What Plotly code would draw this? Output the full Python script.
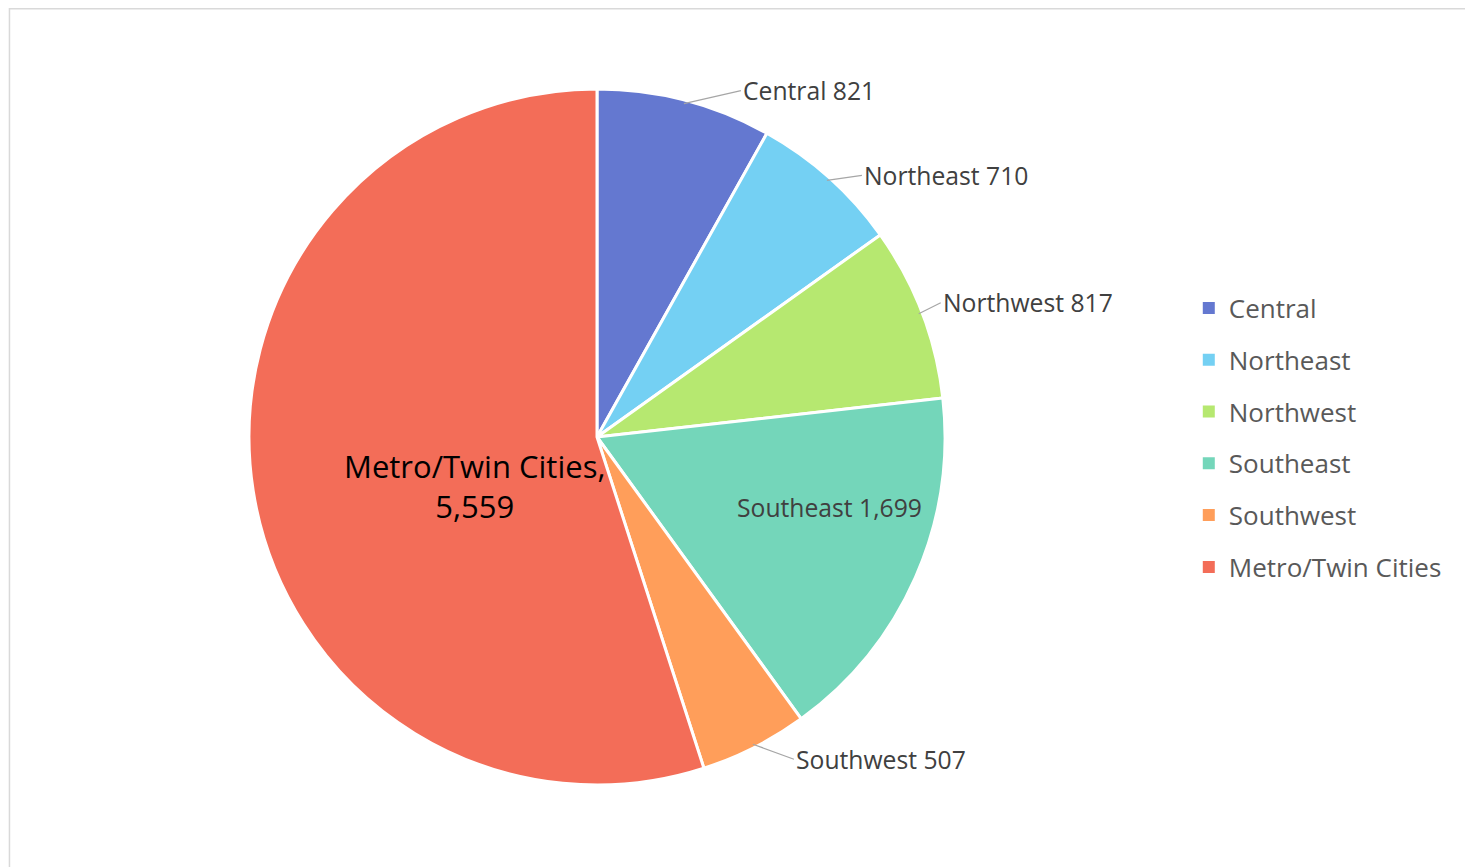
import math
import plotly.graph_objects as go

# ---- data ----
regions = ["Central", "Northeast", "Northwest", "Southeast", "Southwest", "Metro/Twin Cities"]
counts = [821, 710, 817, 1699, 507, 5559]

# ---- styling ----
colors = ["#6478D0", "#74D0F3", "#B6E870", "#74D6BA", "#FF9E5A", "#F36D58"]
FONT = "Open Sans, Noto Sans, sans-serif"
W, H = 1465, 859            # page body has an 8px margin
CX_PX, CY_PX, R_PX = 589, 429, 348

# label style per slice: (kind, radial fraction, dx px, dy px)
label_style = [
    ("out", 0.99, 57, -13),
    ("out", 0.99, 35, -5),
    ("out", 0.99, 22, -11),
    ("in", 0.70, 10, -28),
    ("out", 0.99, 41, 15),
    ("in", 0.38, 8, 28),
]

dom_x = [(CX_PX - R_PX) / W, (CX_PX + R_PX) / W]
dom_y = [1 - (CY_PX + R_PX) / H, 1 - (CY_PX - R_PX) / H]

fig = go.Figure()
fig.add_trace(go.Pie(
    labels=regions,
    values=counts,
    sort=False,
    direction="clockwise",
    rotation=0,
    marker=dict(colors=colors, line=dict(color="white", width=3)),
    textinfo="none",
    showlegend=False,
    domain=dict(x=dom_x, y=dom_y),
    hoverinfo="label+value+percent",
))

# data labels placed from each slice's mid angle
total = sum(counts)
cum = 0
annotations = []
for name, v, (kind, f, dx, dy) in zip(regions, counts, label_style):
    a = (cum + v / 2) / total * 2 * math.pi
    cum += v
    px = CX_PX + f * R_PX * math.sin(a)
    py = CY_PX - f * R_PX * math.cos(a)
    xp, yp = px / W, 1 - py / H
    if kind == "out":
        annotations.append(dict(
            x=xp, y=yp, xref="paper", yref="paper",
            text=f"{name} {v:,}", showarrow=True, arrowhead=0, arrowwidth=1.2,
            arrowcolor="#A6A6A6", ax=dx, ay=dy, xanchor="left", yanchor="middle",
            font=dict(size=24.7, color="#404040", family=FONT),
        ))
    elif name.startswith("Metro"):
        annotations.append(dict(
            x=xp, y=yp, xref="paper", yref="paper", showarrow=False,
            text=f"{name},<br>{v:,}", xshift=dx, yshift=-dy,
            xanchor="center", yanchor="middle",
            font=dict(size=31, color="#000000", family=FONT), align="center",
        ))
    else:
        annotations.append(dict(
            x=xp, y=yp, xref="paper", yref="paper", showarrow=False,
            text=f"{name} {v:,}", xshift=dx, yshift=-dy,
            xanchor="center", yanchor="middle",
            font=dict(size=24.7, color="#404040", family=FONT),
        ))

# legend entries (one group per region so the entries are spaced like the reference)
for name, col in zip(regions, colors):
    fig.add_trace(go.Scatter(
        x=[None], y=[None], mode="markers", name=name, legendgroup=name,
        marker=dict(symbol="square", size=11, color=col),
    ))

fig.update_layout(
    width=W, height=H,
    paper_bgcolor="white", plot_bgcolor="white",
    margin=dict(l=0, r=0, t=0, b=0),
    xaxis=dict(visible=False), yaxis=dict(visible=False),
    legend=dict(
        x=0.806, y=0.5, xanchor="left", yanchor="middle",
        font=dict(size=26, color="#595959", family=FONT),
        tracegroupgap=15, itemsizing="constant",
        bgcolor="rgba(0,0,0,0)",
    ),
    annotations=annotations,
    shapes=[dict(type="rect", xref="paper", yref="paper",
                 x0=0.001, x1=0.996, y0=-0.01, y1=0.999,
                 line=dict(color="#D9D9D9", width=1.5), fillcolor="rgba(0,0,0,0)")],
)

fig.write_html("out.html")
